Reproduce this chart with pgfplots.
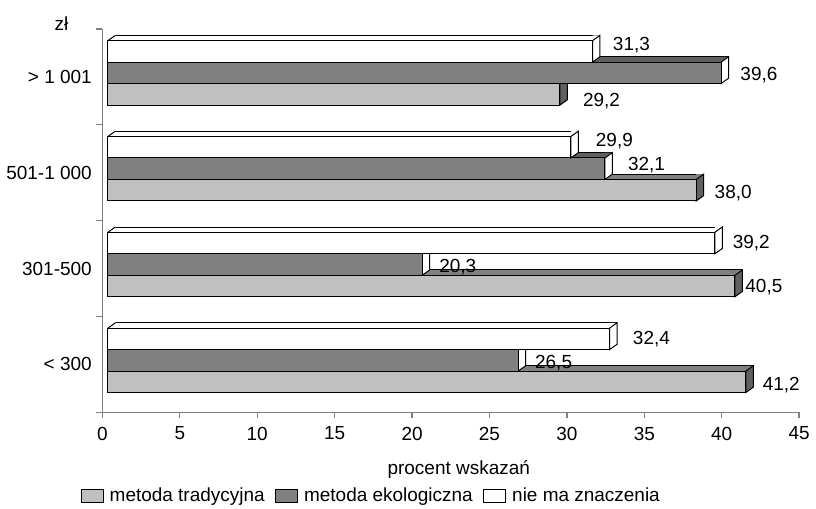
\documentclass[border=0pt]{standalone}
\usepackage{pgfplots}
\pgfplotsset{compat=1.18}
\usepackage{pgfplotstable}
\usepackage{fontspec}
\setmainfont{Liberation Sans}

\definecolor{trad}{HTML}{C0C0C0}
\definecolor{eko}{HTML}{808080}
\definecolor{dk}{HTML}{606060}

\pgfkeys{/pgf/number format/assume math mode=true}

% 3D faces of the Excel-like bars (sizes in pt, 1px = 0.6pt)
\pgfdeclareplotmark{rface}{%
  \pgfpathmoveto{\pgfqpoint{0pt}{-6.45pt}}%
  \pgfpathlineto{\pgfqpoint{0pt}{6.45pt}}%
  \pgfpathlineto{\pgfqpoint{4.5pt}{9.65pt}}%
  \pgfpathlineto{\pgfqpoint{4.5pt}{-3.25pt}}%
  \pgfpathclose
  \pgfusepathqfillstroke}
\pgfdeclareplotmark{rtri}{%
  \pgfpathmoveto{\pgfqpoint{0pt}{6.45pt}}%
  \pgfpathlineto{\pgfqpoint{4.5pt}{9.65pt}}%
  \pgfpathlineto{\pgfqpoint{0pt}{9.65pt}}%
  \pgfpathclose
  \pgfusepathqfill}
\pgfdeclareplotmark{ltri}{%
  \pgfpathmoveto{\pgfqpoint{0pt}{6.45pt}}%
  \pgfpathlineto{\pgfqpoint{4.5pt}{6.45pt}}%
  \pgfpathlineto{\pgfqpoint{4.5pt}{9.65pt}}%
  \pgfpathclose
  \pgfusepathqfill
  \pgfpathmoveto{\pgfqpoint{0pt}{6.45pt}}%
  \pgfpathlineto{\pgfqpoint{4.5pt}{9.65pt}}%
  \pgfusepathqstroke}

% y: 0 = < 300 ... 3 = > 1 001; lx, ly = label offsets (pt)
\pgfplotstableread{
y v lx ly
0 41.2 13.2 -12.6
1 40.5 9.3 -11.4
2 38.0 14.1 -12.0
3 29.2 16.9 -14.4
}\trad

\pgfplotstableread{
y v lx ly
0 26.5 13.2 0.9
1 20.3 13.3 0.9
2 32.1 16.9 4.5
3 39.6 14.7 0.9
}\eko

\pgfplotstableread{
y v lx ly
0 32.4 17.1 15.0
1 39.2 13.8 15.0
2 29.9 18.1 19.2
3 31.3 15.3 19.2
}\nie

% #1 table, #2 bar shift in pt, #3 front, #4 top, #5 side colour
\newcommand\barseries[5]{%
  \addplot[forget plot, xbar, bar width=3.2pt, bar shift={#2pt+8.05pt}, xshift=7.8pt,
    fill=#4, draw=none] table[x expr=\thisrow{v}-0.4835, y=y] {#1};
  \addplot[forget plot, xbar, bar width=0pt, bar shift={#2pt+9.65pt}, xshift=7.8pt,
    draw=black, fill=none] table[x=v, y=y] {#1};
  \addplot[forget plot, only marks, mark=ltri, xshift=3.3pt, yshift=#2pt,
    mark options={fill=#4, draw=black}] table[x expr=0, y=y] {#1};
  \addplot[forget plot, only marks, mark=rtri, xshift=3.3pt, yshift=#2pt,
    mark options={fill=#4, draw=black}] table[x=v, y=y] {#1};
  \addplot[forget plot, only marks, mark=rface, xshift=3.3pt, yshift=#2pt,
    mark options={fill=#5, draw=black}] table[x=v, y=y] {#1};
  \addplot[forget plot, xbar, bar width=12.9pt, bar shift=#2pt, xshift=3.3pt,
    fill=#3, draw=black] table[x=v, y=y] {#1};
}
\newcommand\labels[1]{%
  \addplot[forget plot, only marks, mark=none, point meta=x,
    visualization depends on={\thisrow{lx}\as\lx},
    visualization depends on={\thisrow{ly}\as\ly},
    nodes near coords={\pgfmathprintnumber[fixed,fixed zerofill,precision=1,use comma]{\pgfplotspointmeta}},
    every node near coord/.append style={anchor=west, inner sep=0pt, xshift=\lx*1pt, yshift=\ly*1pt}]
    table[x=v, y=y] {#1};
}

\begin{document}
\fontsize{11.4}{13.6}\selectfont
\begin{tikzpicture}
\begin{axis}[
  scale only axis, width=418.8pt, height=230.4pt,
  xmin=0, xmax=45, ymin=-0.5, ymax=3.5,
  clip=false, clip marker paths=true,
  axis x line*=bottom, axis y line*=left,
  axis line style={draw=gray, line width=0.8pt},
  tick style={draw=gray, line width=0.8pt},
  tick align=outside, major tick length=3.6pt,
  xtick={0,5,...,45},
  xticklabel style={yshift=-1.2pt},
  ytick={-0.5,0.5,1.5,2.5,3.5},
  yticklabels={< 300, 301-500, 501-1 000, > 1 001},
  y tick label as interval,
  yticklabel style={xshift=1.2pt},
  every axis plot/.append style={line width=0.6pt},
  xlabel={procent wskazań},
  xlabel style={at={(rel axis cs:0,0)}, anchor=center, xshift=214.2pt, yshift=-34.2pt},
  ylabel={zł},
  ylabel style={at={(rel axis cs:0,1)}, rotate=-90, anchor=center, xshift=-24.6pt, yshift=3pt},
  legend columns=3,
  legend image code/.code={\draw[#1] (0pt,-3.9pt) rectangle (13.2pt,3.9pt);},
  legend style={draw=none, fill=none, at={(rel axis cs:0,0)}, anchor=west,
    xshift=-13.2pt, yshift=-50.4pt, inner sep=0pt, nodes={inner sep=0pt},
    /tikz/every odd column/.append style={column sep=3.6pt},
    /tikz/every even column/.append style={column sep=6.3pt}},
]
\addlegendimage{fill=trad, draw=black, line width=0.6pt}
\addlegendentry{metoda tradycyjna}
\addlegendimage{fill=eko, draw=black, line width=0.6pt}
\addlegendentry{metoda ekologiczna}
\addlegendimage{fill=white, draw=black, line width=0.6pt}
\addlegendentry{nie ma znaczenia}

\barseries{\trad}{-10.5}{trad}{eko}{dk}
\barseries{\eko}{2.4}{eko}{dk}{white}
\barseries{\nie}{15.3}{white}{white}{white}
\labels{\trad}
\labels{\eko}
\labels{\nie}
\end{axis}
\path (current axis.south west) ++(-61.2pt,-57.6pt) rectangle ++(489.6pt,305.4pt);
\end{tikzpicture}
\end{document}
